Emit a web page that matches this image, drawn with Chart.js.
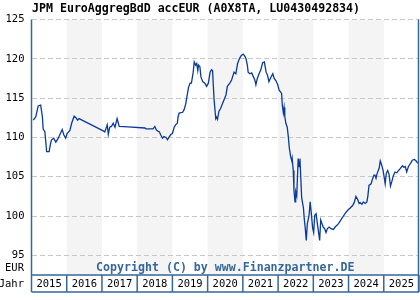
<!DOCTYPE html>
<html>
<head>
<meta charset="utf-8">
<script src="https://cdn.jsdelivr.net/npm/chart.js@4.4.0/dist/chart.umd.min.js"></script>
<style>
  html, body { margin: 0; padding: 0; background: #fff; }
  #wrap { width: 420px; height: 300px; }
</style>
</head>
<body>
<div id="wrap"><canvas id="myChart" width="420" height="300"></canvas></div>
<script>
const title = "JPM EuroAggregBdD accEUR (A0X8TA, LU0430492834)";
const copyright = "Copyright (C) by www.Finanzpartner.DE";
const yearLabels = [2015, 2016, 2017, 2018, 2019, 2020, 2021, 2022, 2023, 2024, 2025];
const yTicks = [95, 100, 105, 110, 115, 120, 125];

// decimal year of each price point
const dates = [
  2015.05, 2015.12, 2015.19, 2015.26, 2015.31, 2015.33, 2015.38, 2015.43, 2015.50, 2015.54,
  2015.57, 2015.63, 2015.69, 2015.76, 2015.82, 2015.87, 2015.92, 2015.97, 2016.01, 2016.09,
  2016.14, 2016.21, 2016.26, 2016.31, 2016.35, 2017.05, 2017.08, 2017.15, 2017.18, 2017.22,
  2017.27, 2017.32, 2017.37, 2017.43, 2017.49, 2017.74, 2018.22, 2018.25, 2018.45, 2018.50,
  2018.55, 2018.63, 2018.67, 2018.72, 2018.76, 2018.82, 2018.86, 2018.90, 2018.96, 2019.00,
  2019.05, 2019.09, 2019.14, 2019.16, 2019.19, 2019.29, 2019.33, 2019.38, 2019.42, 2019.46,
  2019.50, 2019.54, 2019.59, 2019.62, 2019.66, 2019.69, 2019.72, 2019.74, 2019.78, 2019.81,
  2019.86, 2019.92, 2019.97, 2020.02, 2020.07, 2020.11, 2020.14, 2020.18, 2020.23, 2020.25,
  2020.28, 2020.32, 2020.37, 2020.44, 2020.52, 2020.56, 2020.63, 2020.68, 2020.75, 2020.80,
  2020.85, 2020.90, 2020.95, 2021.01, 2021.06, 2021.09, 2021.13, 2021.15, 2021.20, 2021.25,
  2021.30, 2021.34, 2021.37, 2021.41, 2021.46, 2021.51, 2021.56, 2021.61, 2021.66, 2021.70,
  2021.74, 2021.79, 2021.85, 2021.89, 2021.94, 2021.99, 2022.03, 2022.10, 2022.12, 2022.15,
  2022.17, 2022.19, 2022.22, 2022.26, 2022.29, 2022.32, 2022.36, 2022.39, 2022.40, 2022.43,
  2022.45, 2022.48, 2022.50, 2022.53, 2022.57, 2022.60, 2022.62, 2022.67, 2022.72, 2022.74,
  2022.77, 2022.80, 2022.83, 2022.88, 2022.91, 2022.94, 2022.98, 2023.01, 2023.04, 2023.08,
  2023.11, 2023.15, 2023.18, 2023.21, 2023.25, 2023.28, 2023.32, 2023.36, 2023.40, 2023.45,
  2023.50, 2023.57, 2023.62, 2023.71, 2023.81, 2023.90, 2023.99, 2024.04, 2024.11, 2024.16,
  2024.21, 2024.26, 2024.30, 2024.33, 2024.38, 2024.42, 2024.47, 2024.52, 2024.55, 2024.58,
  2024.64, 2024.68, 2024.72, 2024.75, 2024.78, 2024.81, 2024.87, 2024.90, 2024.94, 2024.98,
  2025.02, 2025.04, 2025.07, 2025.11, 2025.15, 2025.19, 2025.23, 2025.27, 2025.32, 2025.37,
  2025.42, 2025.46, 2025.53, 2025.57, 2025.61, 2025.65, 2025.70, 2025.76, 2025.81, 2025.87,
  2025.92, 2025.97
];

// fund price in EUR
const prices = [
  112.2, 112.6, 114.0, 114.1, 112.6, 111.1, 110.7, 108.2, 108.2, 109.2,
  109.7, 109.9, 109.4, 109.9, 110.5, 111.0, 110.3, 109.9, 110.5, 110.9,
  111.8, 112.7, 112.5, 112.2, 112.4, 110.8, 110.7, 111.6, 110.4, 111.3,
  111.4, 111.8, 111.3, 112.4, 111.4, 111.35, 111.2, 111.1, 111.1, 111.4,
  110.9, 110.7, 110.3, 109.9, 110.1, 110.0, 109.7, 110.0, 110.4, 110.5,
  111.3, 111.6, 111.8, 112.6, 113.1, 113.2, 113.5, 114.3, 115.4, 116.4,
  116.9, 116.9, 118.3, 119.6, 119.2, 119.4, 118.5, 119.2, 119.0, 117.7,
  117.1, 116.9, 116.5, 116.9, 118.3, 118.6, 118.5, 115.0, 112.4, 112.6,
  112.3, 113.3, 113.7, 114.5, 115.4, 116.5, 116.9, 117.3, 118.3, 118.1,
  119.4, 120.0, 120.4, 120.6, 120.3, 120.0, 119.1, 118.3, 118.1, 118.2,
  117.7, 117.3, 116.7, 117.5, 118.1, 118.6, 119.5, 119.6, 118.3, 117.9,
  117.1, 117.6, 118.1, 117.5, 117.2, 116.7, 116.0, 115.6, 114.1, 113.1,
  113.8, 112.7, 111.8, 111.3, 110.1, 108.6, 107.5, 107.0, 107.3, 105.8,
  103.3, 101.8, 103.1, 102.6, 107.3, 106.3, 107.3, 102.3, 101.0, 99.8,
  98.5, 96.9, 99.0, 100.1, 101.8, 100.5, 98.5, 97.9, 100.1, 100.3,
  99.2, 97.9, 96.9, 99.5, 99.0, 98.6, 98.4, 97.9, 98.4, 98.6,
  98.4, 98.3, 98.6, 99.0, 99.7, 100.3, 100.8, 101.0, 101.3, 101.7,
  102.5, 102.1, 101.6, 101.7, 101.5, 101.8, 101.6, 101.8, 102.6, 103.9,
  104.1, 104.7, 105.2, 105.2, 104.8, 105.4, 106.1, 107.0, 106.5, 105.8,
  104.7, 104.1, 105.4, 105.8, 105.3, 103.8, 104.4, 105.1, 105.6, 105.5,
  105.8, 106.0, 106.4, 106.2, 106.3, 105.6, 106.3, 106.7, 107.1, 107.2,
  107.0, 106.7
];

const FONT = '"DejaVu Sans Mono", "Liberation Mono", monospace';
const BLUE = "#36679a";

// grey bands for every second year, drawn under the grid
const bandsPlugin = {
  id: "bands",
  beforeDraw(chart) {
    const { ctx, chartArea } = chart;
    const xs = chart.scales.x;
    ctx.save();
    ctx.fillStyle = "#f4f4f4";
    yearLabels.forEach((yr) => {
      if (yr % 2 === 0) {
        const x0 = xs.getPixelForValue(yr);
        const x1 = xs.getPixelForValue(yr + 1);
        ctx.fillRect(x0, chartArea.top, x1 - x0, chartArea.bottom - chartArea.top);
      }
    });
    ctx.restore();
  },
};

// frame, year row and the texts
const framePlugin = {
  id: "frame",
  afterDraw(chart) {
    const { ctx, chartArea } = chart;
    const xs = chart.scales.x;
    const rowTop = chartArea.bottom;
    const rowBottom = chartArea.bottom + 17;
    ctx.save();

    ctx.fillStyle = "#000";
    ctx.font = "bold 11.6px " + FONT;
    ctx.textBaseline = "middle";
    ctx.textAlign = "left";
    ctx.fillText(title, 32, 9);

    ctx.fillStyle = BLUE;
    ctx.textAlign = "center";
    ctx.fillText(copyright, (chartArea.left + chartArea.right) / 2, rowTop - 7);

    ctx.strokeStyle = BLUE;
    ctx.lineWidth = 1.5;
    ctx.beginPath();
    ctx.moveTo(chartArea.left, chartArea.top);
    ctx.lineTo(chartArea.left, rowBottom);
    ctx.moveTo(chartArea.right - 0.5, chartArea.top);
    ctx.lineTo(chartArea.right - 0.5, rowBottom);
    ctx.moveTo(chartArea.left, rowTop);
    ctx.lineTo(chartArea.right, rowTop);
    ctx.moveTo(chartArea.left, rowBottom);
    ctx.lineTo(chartArea.right, rowBottom);
    yearLabels.forEach((yr) => {
      const x = xs.getPixelForValue(yr + 1);
      ctx.moveTo(x, rowTop);
      ctx.lineTo(x, rowBottom);
    });
    ctx.stroke();

    ctx.fillStyle = "#000";
    ctx.font = "10.5px " + FONT;
    yearLabels.forEach((yr) => {
      const x = (xs.getPixelForValue(yr) + xs.getPixelForValue(yr + 1)) / 2;
      ctx.fillText(String(yr), x, (rowTop + rowBottom) / 2 + 1);
    });
    ctx.textAlign = "right";
    ctx.fillText("Jahr", 24, (rowTop + rowBottom) / 2 + 1);
    ctx.fillText("EUR", 24, rowTop - 7);
    ctx.restore();
  },
};

const points = dates.map((d, i) => ({ x: d, y: prices[i] }));

new Chart(document.getElementById("myChart"), {
  type: "line",
  data: {
    datasets: [
      {
        data: points,
        borderColor: "#0a3a9c",
        borderWidth: 1.3,
        pointRadius: 0,
        tension: 0,
        fill: false,
      },
    ],
  },
  options: {
    responsive: false,
    animation: false,
    layout: { padding: { top: 19.5, right: 1, bottom: 25, left: 0 } },
    plugins: { legend: { display: false }, tooltip: { enabled: false } },
    scales: {
      x: { type: "linear", min: 2015, max: 2026, display: false },
      y: {
        min: 92.5,
        max: 125,
        afterBuildTicks: (scale) => {
          scale.ticks = yTicks.map((v) => ({ value: v }));
        },
        afterFit: (scale) => {
          scale.width = 31.5;
        },
        ticks: { color: "#000", padding: 7, font: { family: FONT, size: 10.5 } },
        grid: { color: "#c8c8c8", lineWidth: 1, drawTicks: false },
        border: { display: false, dash: [5, 3] },
      },
    },
  },
  plugins: [bandsPlugin, framePlugin],
});
</script>
</body>
</html>
